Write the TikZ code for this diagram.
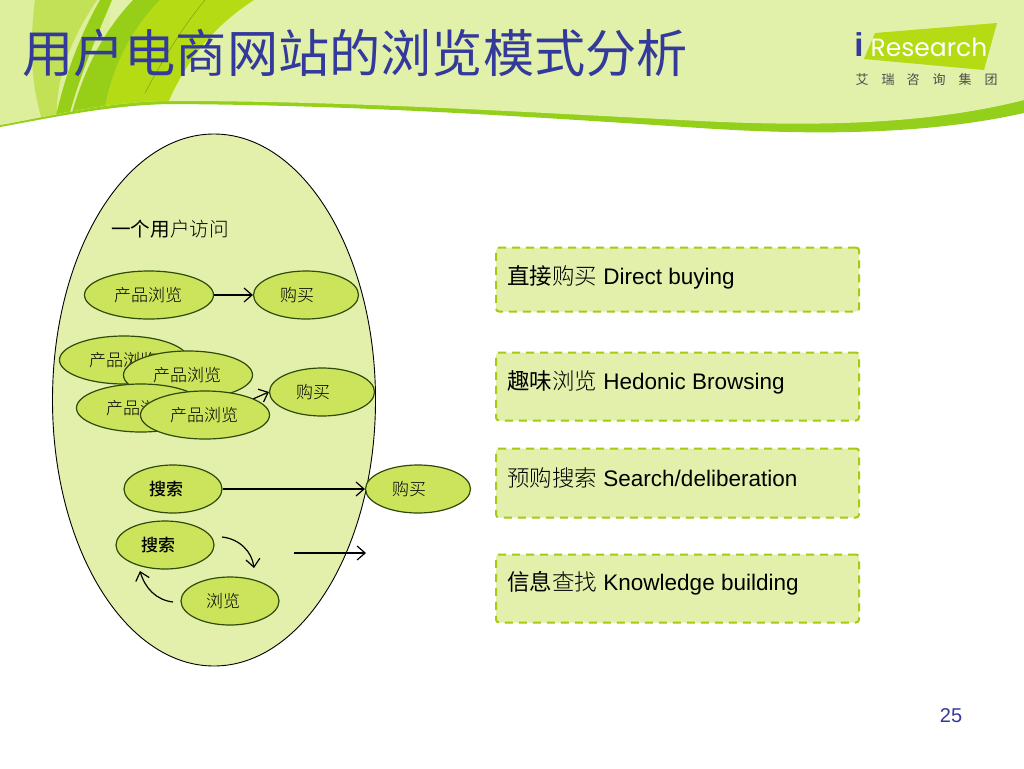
\documentclass[tikz,border=0pt]{standalone}
\usepackage{fontspec}
\setmainfont{Liberation Sans}
\newfontfamily\cjk{Noto Sans CJK SC}
\newfontfamily\cjkl{Noto Sans CJK SC Light}
\newfontfamily\cjkm{Noto Sans CJK SC Medium}
\newfontfamily\logofont{Poppins}
\usetikzlibrary{shapes.geometric,arrows.meta}
\definecolor{hdr}{HTML}{E2F1A9}
\definecolor{hdrl}{HTML}{DDEE9C}
\definecolor{fillg}{HTML}{E3F0AC}
\definecolor{small}{HTML}{CCE35C}
\definecolor{edge}{HTML}{2F4A0A}
\definecolor{band}{HTML}{93CF1B}
\definecolor{dashg}{HTML}{A4CB12}
\definecolor{titleb}{HTML}{333A9C}
\definecolor{stripa}{HTML}{C3E156}
\definecolor{stripb}{HTML}{96CE18}
\definecolor{stripc}{HTML}{B4DB14}
\newcommand{\lefttext}[2]{\raisebox{2pt}{#2}\kern#1}
\tikzset{
  fs/.style={font=\fontsize{#1}{#1}\selectfont},
  big/.style={ellipse,draw=black,line width=0.9pt,fill=fillg,inner sep=0pt},
  oval/.style={ellipse,draw=edge,line width=1.2pt,fill=small,inner sep=0pt,minimum height=48pt,text=black,fs=17},
  ovalw/.style={oval,minimum width=129pt},
  ovalb/.style={oval,minimum width=105pt},
  ovals/.style={oval,minimum width=98pt},
  conn/.style={draw=black,line width=1.2pt,-{Straight Barb[length=8pt,width=14pt,line width=1.2pt]}},
  dbox/.style={rounded corners=3pt,draw=dashg,line width=2pt,dash pattern=on 8pt off 6pt,fill=fillg,minimum width=363pt,anchor=north west,inner sep=0pt},
  lab/.style={anchor=west,inner sep=0pt,fs=22.5},
}
\begin{document}
\begin{tikzpicture}[x=1pt,y=-1pt]
\useasboundingbox (0,0) rectangle (1024,768);
\fill[white] (0,0) rectangle (1024,768);
% header
\fill[band] (0,0) -- (1024,0) -- (1024,113) .. controls (930,134) and (820,136) .. (700,128) .. controls (520,116) and (350,105) .. (170,104) .. controls (110,105) and (50,118) .. (0,127) -- cycle;
\begin{scope}
\clip (0,0) -- (1024,0) -- (1024,100) .. controls (930,124) and (820,127) .. (700,121) .. controls (520,112) and (350,101) .. (170,101) .. controls (110,101) and (50,116) .. (0,125) -- cycle;
\fill[hdr] (0,0) rectangle (1024,130);
\fill[hdrl] (0,0) rectangle (110,130);
\fill[stripa] (35,0) -- (97,0) .. controls (70,40) and (55,80) .. (57,120) -- (42,120) .. controls (30,80) and (30,40) .. (35,0) -- cycle;
\fill[stripb] (100,0) -- (112,0) .. controls (95,40) and (78,80) .. (68,120) -- (55,120) .. controls (65,75) and (80,35) .. (100,0) -- cycle;
\fill[stripb] (133,0) -- (165,0) .. controls (130,30) and (110,70) .. (103,120) -- (70,120) .. controls (85,65) and (105,30) .. (133,0) -- cycle;
\fill[stripc] (160,0) -- (254,0) .. controls (215,25) and (185,60) .. (165,110) -- (103,120) .. controls (110,70) and (130,30) .. (160,0) -- cycle;
\draw[stripb!80!black,line width=0.5pt] (205,0) .. controls (180,30) and (160,65) .. (145,93);
\end{scope}
% title
\node[inner sep=0pt,text=titleb,fs=51.2] (title) at (355,53) {\cjk 用户电商网站的浏览模式分析};
% logo
\fill[stripc] (875,33) -- (997,23) -- (984,70) -- (864,59) -- cycle;
\node[inner sep=0pt,text=white,fs=25] (logoa) at (929,47) {\logofont Research};
\node[inner sep=0pt,text=titleb,font=\bfseries\fontsize{33}{33}\selectfont] (logob) at (859,45) {i};
\node[inner sep=0pt,text=black!70,fs=13] (l1) at (862,80) {\cjk 艾};
\node[inner sep=0pt,text=black!70,fs=13] (l2) at (888,80) {\cjk 瑞};
\node[inner sep=0pt,text=black!70,fs=13] (l3) at (913,80) {\cjk 咨};
\node[inner sep=0pt,text=black!70,fs=13] (l4) at (939,80) {\cjk 询};
\node[inner sep=0pt,text=black!70,fs=13] (l5) at (965,80) {\cjk 集};
\node[inner sep=0pt,text=black!70,fs=13] (l6) at (991,80) {\cjk 团};
% big ellipse
\node[big,minimum width=323pt,minimum height=532pt] (outer) at (214,400) {};
\node[anchor=west,inner sep=0pt,fs=19.6] (visit) at (111,229) {\cjk 一个用\cjkl 户访问};
% ovals row 1
\node[ovalw] (p0) at (149,295) {\lefttext{2pt}{\cjkl 产品浏览}};
\node[ovalb] (b0) at (306,295) {\lefttext{18pt}{\cjkl 购买}};
\draw[conn] (p0) -- (b0);
% cluster
\coordinate (cs) at (205,420);
\node[ovalb] (b1) at (322,392) {\lefttext{18pt}{\cjkl 购买}};
\draw[conn] (cs) -- (b1.west);
\node[ovalw] (p1) at (124,360) {\lefttext{2pt}{\cjkl 产品浏览}};
\node[ovalw] (p2) at (188,375) {\lefttext{2pt}{\cjkl 产品浏览}};
\node[ovalw] (p3) at (141,408) {\lefttext{2pt}{\cjkl 产品浏览}};
\node[ovalw] (p4) at (205,415) {\lefttext{2pt}{\cjkl 产品浏览}};
% search row
\node[ovals] (s0) at (173,489) {\lefttext{14pt}{\cjkm 搜索}};
\node[ovalb] (b2) at (418,489) {\lefttext{18pt}{\cjkl 购买}};
\draw[conn] (s0) -- (b2);
\node[ovals] (s1) at (165,545) {\lefttext{14pt}{\cjkm 搜索}};
\node[ovals] (v1) at (230,601) {\lefttext{14pt}{\cjkl 浏览}};
\coordinate (c1) at (222,537);
\coordinate (c2) at (254,568);
\coordinate (c3) at (173,602);
\coordinate (c4) at (140,571);
\coordinate (c5) at (294,553);
\coordinate (c6) at (366,553);
\draw[conn] (c1) .. controls (240,539) and (252,552) .. (c2);
\draw[conn] (c3) .. controls (156,600) and (145,588) .. (c4);
\draw[conn] (c5) -- (c6);
% right boxes
\node[dbox,minimum height=64pt] (d1) at (495,246.5) {};
\node[dbox,minimum height=68pt] (d2) at (495,351.5) {};
\node[dbox,minimum height=69pt] (d3) at (495,447.5) {};
\node[dbox,minimum height=68pt] (d4) at (495,553.5) {};
\node[lab] (t1) at (507,277) {\cjk 直接\cjkl 购买\rmfamily{} Direct buying};
\node[lab] (t2) at (507,382) {\cjk 趣味\cjkl 浏览\rmfamily{} Hedonic Browsing};
\node[lab] (t3) at (507,478) {\cjkl 预购搜索\rmfamily{} Search/deliberation};
\node[lab] (t4) at (507,583) {\cjk 信息\cjkl 查找\rmfamily{} Knowledge building};
\node[inner sep=0pt,text=titleb,fs=20] (pg) at (951,716) {25};
\end{tikzpicture}
\end{document}
